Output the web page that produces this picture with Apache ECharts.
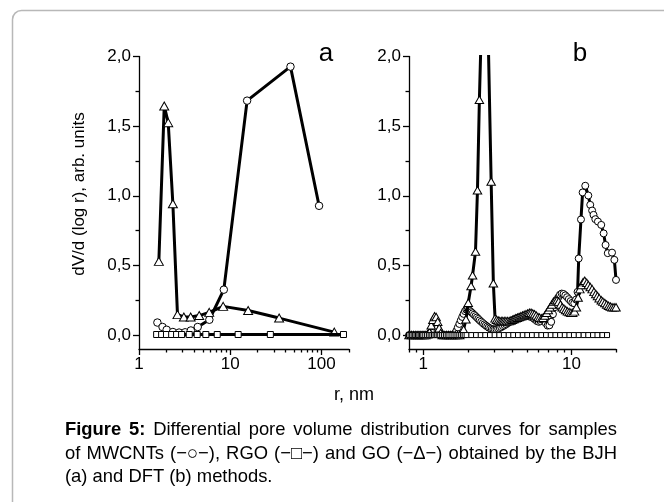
<!DOCTYPE html>
<html>
<head>
<meta charset="utf-8">
<script src="https://cdn.jsdelivr.net/npm/echarts@6/dist/echarts.min.js"></script>
<style>
html,body{margin:0;padding:0;background:#fff;}
#c{width:664px;height:502px;}
</style>
</head>
<body>
<div id="c"></div>
<script>
// ---------- Panel a (BJH) ----------
const aMwcntR = [1.59, 1.81, 2.01, 2.35, 2.75, 3.2, 3.7, 4.4, 5.9, 8.5, 15.3, 45.7, 94];
const aMwcntV = [0.09, 0.058, 0.038, 0.022, 0.018, 0.02, 0.033, 0.058, 0.11, 0.326, 1.683, 1.927, 0.928];
const aRgoR = [1.56, 1.77, 2.0, 2.28, 2.58, 2.93, 3.55, 4.34, 5.4, 7.2, 12.2, 27.5, 174];
const aRgoV = [0.004, 0.004, 0.004, 0.004, 0.004, 0.004, 0.004, 0.004, 0.004, 0.004, 0.004, 0.004, 0.004];
const aGoR = [1.65, 1.89, 2.09, 2.35, 2.64, 3.1, 3.68, 4.57, 5.88, 8.36, 15.7, 34.3, 138];
const aGoV = [0.529, 1.645, 1.525, 0.943, 0.147, 0.13, 0.13, 0.14, 0.163, 0.206, 0.176, 0.122, 0.021];

// ---------- Panel b (DFT) ----------
const bRgoR = [0.80,0.82,0.84,0.86,0.88,0.90,0.92,0.94,0.96,0.98,1.00,1.03,1.06,1.09,1.12,1.15,1.18,1.21,1.24,1.27,1.30,1.34,1.38,1.42,1.46,1.50,1.55,1.60,1.65,1.70,1.75,1.80,1.85,1.90,
  1.96,2.11,2.27,2.44,2.62,2.82,3.03,3.26,3.50,3.77,4.05,4.36,4.69,5.04,5.42,5.83,6.27,6.74,7.25,7.80,8.39,9.02,9.70,10.4,11.2,12.1,13.0,14.0,15.0,16.2,17.4];
const bRgoV = [0,0,0,0,0,0,0,0,0,0,0,0,0,0,0,0,0,0,0,0,0,0,0,0,0,0,0,0,0,0,0,0,0,0,
  0,0,0,0,0,0,0,0,0,0,0,0,0,0,0,0,0,0,0,0,0,0,0,0,0,0,0,0,0,0,0];

const bGoR = [0.80,0.83,0.86,0.89,0.92,0.95,0.98,1.01,1.04,1.07,1.10,1.13,1.16,1.19,1.22,1.25,1.28,1.31,1.34,1.38,1.43,1.48,1.53,1.58,1.64,1.70,1.76,1.82,1.87,
  1.94,2.01,2.10,2.15,2.25,2.32,2.39,2.52,2.64,2.87,2.97,3.05,
  3.12,3.20,3.28,3.36,3.44,3.52,3.61,3.70,3.80,3.90,4.00,4.10,4.21,4.32,4.43,4.55,4.67,4.80,4.93,5.06,5.20,5.34,5.48,5.63,5.78,5.94,6.10,6.27,6.44,6.62,6.80,6.98,7.17,7.37,7.57,7.78,7.99,8.20,8.43,8.66,8.90,9.14,9.39,9.65,9.91,
  10.2,10.5,10.8,11.1,11.4,11.7,12.0,12.3,12.7,13.0,13.4,13.8,14.2,14.6,15.0,15.4,15.9,16.3,16.8,17.3,17.8,18.3,18.8,19.4,20.0];
const bGoV = [0,0,0,0,0,0,0,0,0,0.005,0.02,0.07,0.11,0.135,0.13,0.095,0.05,0.015,0,0,0,0,0,0,0,0,0,0.01,0.04,
  0.113,0.232,0.352,0.43,0.6,1.04,1.69,2.6,3.0,1.103,0.372,0.12,
  0.11,0.105,0.1,0.1,0.1,0.1,0.1,0.1,0.1,0.105,0.11,0.115,0.12,0.125,0.13,0.135,0.14,0.145,0.15,0.155,0.16,0.16,0.155,0.15,0.14,0.13,0.125,0.12,0.125,0.14,0.16,0.18,0.2,0.22,0.24,0.25,0.25,0.24,0.22,0.2,0.19,0.18,0.17,0.165,0.16,
  0.16,0.17,0.2,0.27,0.33,0.36,0.38,0.39,0.375,0.36,0.345,0.33,0.31,0.295,0.28,0.265,0.25,0.24,0.23,0.22,0.21,0.205,0.2,0.2,0.2];

const bMwcntR = [0.80,0.83,0.86,0.89,0.92,0.95,0.98,1.01,1.04,1.07,1.10,1.13,1.16,1.19,1.22,1.25,1.28,1.31,1.34,1.38,1.43,1.48,1.53,1.58,
  1.63,1.67,1.71,1.75,1.79,1.83,1.87,1.91,1.95,1.99,2.03,2.07,2.11,2.15,2.20,2.25,2.30,2.35,2.40,2.46,2.52,2.58,2.64,2.70,2.76,2.83,2.90,2.97,
  3.04,3.12,3.20,3.28,3.36,3.45,3.54,3.63,3.72,3.82,3.92,4.02,4.13,4.24,4.35,4.47,4.59,4.71,4.84,4.97,5.11,5.25,5.40,5.55,5.70,5.86,6.02,6.19,6.36,6.54,6.72,6.91,
  7.10,7.30,7.50,7.71,7.92,8.14,8.37,8.60,8.84,9.09,9.35,9.61,9.88,10.15,10.45,10.75,11.0,11.2,11.6,11.9,12.4,13.0,13.4,13.8,14.1,14.5,15.1,15.9,16.5,17.0,17.6,18.8,19.5,20.0];
const bMwcntV = [0,0,0,0,0,0,0,0,0,0,0.01,0.025,0.045,0.06,0.065,0.05,0.025,0.008,0,0,0,0,0,0,
  0.01,0.03,0.055,0.08,0.105,0.13,0.152,0.172,0.183,0.185,0.18,0.172,0.164,0.156,0.146,0.136,0.126,0.116,0.106,0.096,0.086,0.077,0.069,0.061,0.054,0.048,0.044,0.041,
  0.04,0.042,0.046,0.051,0.057,0.064,0.071,0.078,0.086,0.094,0.101,0.107,0.113,0.118,0.123,0.127,0.13,0.132,0.134,0.135,0.135,0.133,0.128,0.12,0.11,0.1,0.095,0.1,0.11,0.105,0.085,0.068,
  0.07,0.095,0.15,0.2,0.24,0.27,0.29,0.298,0.295,0.285,0.272,0.258,0.244,0.232,0.228,0.255,0.31,0.55,0.83,1.024,1.072,1.002,0.935,0.894,0.863,0.832,0.815,0.791,0.73,0.647,0.588,0.592,0.54,0.396];

// ---------- Axis ticks / labels ----------
const aMajorX = [1, 10, 100];
const aMinorX = [2,3,4,5,6,7,8,9,20,30,40,50,60,70,80,90,200];
const bMajorX = [1, 10];
const bMinorX = [0.8,0.9,2,3,4,5,6,7,8,9,20];
const yMajor = [0, 0.5, 1, 1.5, 2];
const yMinor = [0.25, 0.75, 1.25, 1.75];

// ---------- Texts ----------
const yTitle = 'dV/d (log r), arb. units';
const xTitle = 'r, nm';
const captionLines = [
  {bold: 'Figure 5:', text: 'Differential pore volume distribution curves for samples', justify: true},
  {bold: '', text: 'of MWCNTs (\u2212\u25CB\u2212), RGO (\u2212\u25A1\u2212) and GO (\u2212\u0394\u2212) obtained by the BJH', justify: true},
  {bold: '', text: '(a) and DFT (b) methods.', justify: false}
];

const FONT = '"Liberation Sans", Arial, sans-serif';
const pairs = (rs, vs) => rs.map((r, i) => [r, vs[i]]);

const chart = echarts.init(document.getElementById('c'), null, {renderer: 'canvas'});

const grids = [
  {left: 139, top: 56.5, width: 210, height: 292.5},
  {left: 409, top: 56.5, width: 207, height: 292.5}
];
const xr = [[1, 200], [0.8, 20]];
const axisLineStyle = {color: '#000', width: 1.3};

function majorX(g, vals) {
  return {gridIndex: g, type: 'log', logBase: 10, min: xr[g][0], max: xr[g][1], position: 'bottom',
    axisLine: {show: true, onZero: false, lineStyle: axisLineStyle},
    axisTick: {show: true, customValues: vals, length: 6, lineStyle: axisLineStyle},
    axisLabel: {show: true, customValues: vals, color: '#000', fontSize: 17, fontFamily: FONT, margin: 7},
    splitLine: {show: false}, minorTick: {show: false}};
}
function minorX(g, vals) {
  return {gridIndex: g, type: 'log', logBase: 10, min: xr[g][0], max: xr[g][1], position: 'bottom', offset: 0,
    axisLine: {show: false, onZero: false},
    axisTick: {show: true, customValues: vals, length: 3.5, lineStyle: axisLineStyle},
    axisLabel: {show: false}, splitLine: {show: false}};
}
function majorY(g) {
  return {gridIndex: g, type: 'value', min: -0.1, max: 2.0, position: 'left',
    axisLine: {show: true, onZero: false, lineStyle: axisLineStyle},
    axisTick: {show: true, customValues: yMajor, length: 6, lineStyle: axisLineStyle},
    axisLabel: {show: true, customValues: yMajor, color: '#000', fontSize: 17, fontFamily: FONT, margin: 8,
      formatter: v => Number(v).toFixed(1).replace('.', ',')},
    splitLine: {show: false}};
}
function minorY(g) {
  return {gridIndex: g, type: 'value', min: -0.1, max: 2.0, position: 'left', offset: 0,
    axisLine: {show: false, onZero: false},
    axisTick: {show: true, customValues: yMinor, length: 3.5, lineStyle: axisLineStyle},
    axisLabel: {show: false}, splitLine: {show: false}};
}

function line(idx, data, symbol, size, z) {
  return {type: 'line', xAxisIndex: idx, yAxisIndex: idx, data: data, symbol: symbol, symbolSize: size,
    showAllSymbol: true, clip: true, z: z, animation: false,
    lineStyle: {color: '#000', width: 3},
    itemStyle: {color: '#fff', borderColor: '#000', borderWidth: 1},
    emphasis: {disabled: true}};
}

// Caption: justified lines built from words (measured with canvas)
const CAP_SIZE = 18.4, CAP_LEFT = 65, CAP_RIGHT = 617, CAP_Y = [430, 453.5, 477];
const mctx = document.createElement('canvas').getContext('2d');
function measure(word, bold) {
  mctx.font = (bold ? 'bold ' : '') + CAP_SIZE + 'px ' + FONT;
  return mctx.measureText(word).width;
}
const captionGraphics = [];
captionLines.forEach((ln, li) => {
  const words = [];
  if (ln.bold) ln.bold.split(' ').forEach(w => words.push({w: w, b: true}));
  ln.text.split(' ').forEach(w => words.push({w: w, b: false}));
  const widths = words.map(o => measure(o.w, o.b));
  const total = widths.reduce((s, v) => s + v, 0);
  const gap = ln.justify ? (CAP_RIGHT - CAP_LEFT - total) / (words.length - 1) : measure(' ', false);
  let x = CAP_LEFT;
  words.forEach((o, i) => {
    captionGraphics.push({type: 'text', x: x, y: CAP_Y[li],
      style: {text: o.w, font: (o.b ? 'bold ' : '') + CAP_SIZE + 'px ' + FONT, fill: '#000', align: 'left', verticalAlign: 'middle'}});
    x += widths[i] + gap;
  });
});

const option = {
  backgroundColor: '#fff',
  animation: false,
  grid: grids,
  xAxis: [majorX(0, aMajorX), majorX(1, bMajorX), minorX(0, aMinorX), minorX(1, bMinorX)],
  yAxis: [majorY(0), majorY(1), minorY(0), minorY(1)],
  series: [
    line(0, pairs(aMwcntR, aMwcntV), 'circle', 7.5, 2),
    line(0, pairs(aGoR, aGoV), 'triangle', [9, 8], 3),
    line(0, pairs(aRgoR, aRgoV), 'rect', 6, 4),
    line(1, pairs(bMwcntR, bMwcntV), 'circle', 7, 2),
    line(1, pairs(bGoR, bGoV), 'triangle', [8.5, 7.5], 3),
    line(1, pairs(bRgoR, bRgoV), 'rect', 5, 4)
  ],
  graphic: [
    {type: 'rect', z: -10, shape: {x: 12.5, y: 10.5, width: 720, height: 620, r: 9},
      style: {fill: 'none', stroke: '#b8b8b8', lineWidth: 1.5}},
    {type: 'text', x: 326, y: 54, style: {text: 'a', font: '26px ' + FONT, fill: '#000', align: 'center', verticalAlign: 'middle'}},
    {type: 'text', x: 580, y: 54, style: {text: 'b', font: '26px ' + FONT, fill: '#000', align: 'center', verticalAlign: 'middle'}},
    {type: 'text', x: 79, y: 194, rotation: Math.PI / 2,
      style: {text: yTitle, font: '17px ' + FONT, fill: '#000', align: 'center', verticalAlign: 'middle'}},
    {type: 'text', x: 354, y: 395, style: {text: xTitle, font: '18px ' + FONT, fill: '#000', align: 'center', verticalAlign: 'middle'}}
  ].concat(captionGraphics)
};
chart.setOption(option);
</script>
</body>
</html>
